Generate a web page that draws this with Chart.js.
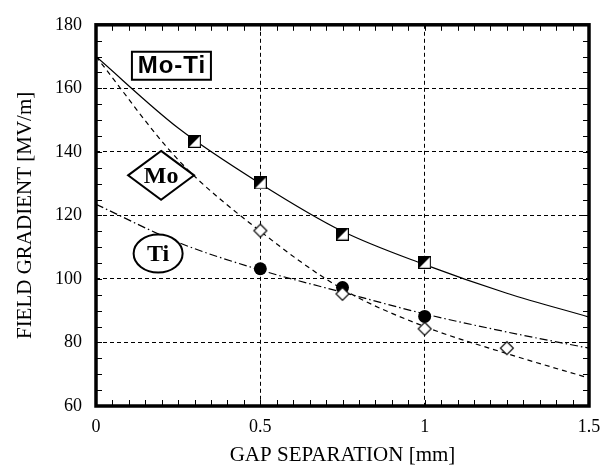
<!DOCTYPE html>
<html>
<head>
<meta charset="utf-8">
<script src="https://cdn.jsdelivr.net/npm/chart.js@4/dist/chart.umd.min.js"></script>
<style>
  html,body{margin:0;padding:0;background:#fff;}
  #wrap{width:613px;height:469px;}
</style>
</head>
<body>
<div id="wrap"><canvas id="c"></canvas></div>
<script>
// fitted curves
const curveX  = [0, 0.25, 0.5, 0.75, 1.0, 1.25, 1.5];
const moTiFit = [170, 147.5, 130, 115, 104.5, 95.5, 88];
const moFit   = [170, 137.5, 115, 96.8, 85, 76.5, 68.8];
const tiFit   = [123.5, 111.5, 102.8, 95.8, 89, 83.3, 78.2];

// measured points
const moTiX = [0.3, 0.5, 0.75, 1.0];
const moTiY = [143.3, 130.2, 114.1, 105.2];
const moX   = [0.5, 0.75, 1.0, 1.25];
const moY   = [115.2, 95.3, 84.3, 78.2];
const tiX   = [0.5, 0.75, 1.0];
const tiY   = [103.2, 97.3, 88.2];

const xTitle = 'GAP SEPARATION [mm]';
const yTitle = 'FIELD GRADIENT [MV/m]';

const SERIF = "'Liberation Serif', 'Times New Roman', serif";
const SANS  = "'Liberation Sans', Arial, sans-serif";

const pts = (xs, ys) => xs.map((x, i) => ({x, y: ys[i]}));

function squareMark(){
  const s = 13, cv = document.createElement('canvas');
  cv.width = s; cv.height = s;
  const g = cv.getContext('2d');
  g.fillStyle = '#fff'; g.fillRect(0,0,s,s);
  g.fillStyle = '#000';
  g.beginPath(); g.moveTo(0,0); g.lineTo(s,0); g.lineTo(0,s); g.closePath(); g.fill();
  g.strokeStyle = '#000'; g.lineWidth = 1.2; g.strokeRect(0.6,0.6,s-1.2,s-1.2);
  return cv;
}
function diamondMark(){
  const s = 16, h = 6.5, cv = document.createElement('canvas');
  cv.width = s; cv.height = s;
  const g = cv.getContext('2d'), c = s/2;
  g.beginPath(); g.moveTo(c, c-h); g.lineTo(c+h, c); g.lineTo(c, c+h); g.lineTo(c-h, c); g.closePath();
  g.fillStyle = '#fff'; g.fill();
  g.strokeStyle = '#000'; g.lineWidth = 1.1; g.stroke();
  return cv;
}

const curve = (data, dash) => ({
  data, showLine:true, borderColor:'#000', borderWidth:1.2, borderDash:dash,
  pointRadius:0, pointHoverRadius:0, cubicInterpolationMode:'monotone', order:2
});

// boxed series labels, placed in data units
const tags = [
  {text:'Mo-Ti', x:0.2295, y:167.1, shape:'rect',    w:79, h:28, font:'bold 24px '+SANS, spacing:'1px'},
  {text:'Mo',    x:0.198,  y:132.6, shape:'diamond', w:66, h:49, font:'bold 24px '+SERIF, spacing:'0px'},
  {text:'Ti',    x:0.189,  y:108.0, shape:'ellipse', w:49, h:38, font:'bold 24px '+SERIF, spacing:'0px'}
];

const frame = {
  id:'frame',
  afterDatasetsDraw(chart){
    const {ctx, chartArea:a, scales:{x, y}} = chart;
    ctx.save();
    // series tags
    tags.forEach(t => {
      const cx = x.getPixelForValue(t.x), cy = y.getPixelForValue(t.y);
      ctx.beginPath();
      if (t.shape === 'rect') ctx.rect(cx - t.w/2, cy - t.h/2, t.w, t.h);
      else if (t.shape === 'diamond'){
        ctx.moveTo(cx, cy - t.h/2); ctx.lineTo(cx + t.w/2, cy); ctx.lineTo(cx, cy + t.h/2); ctx.lineTo(cx - t.w/2, cy); ctx.closePath();
      } else ctx.ellipse(cx, cy, t.w/2, t.h/2, 0, 0, Math.PI*2);
      ctx.fillStyle = '#fff'; ctx.fill();
      ctx.strokeStyle = '#000'; ctx.lineWidth = 2; ctx.stroke();
      ctx.fillStyle = '#000'; ctx.font = t.font;
      ctx.letterSpacing = t.spacing;
      ctx.textAlign = 'center'; ctx.textBaseline = 'middle';
      ctx.fillText(t.text, cx + (t.spacing === '0px' ? 0 : 0.5), cy + 1);
      ctx.letterSpacing = '0px';
    });
    // minor ticks, inward on all four sides
    ctx.strokeStyle = '#000'; ctx.lineWidth = 1;
    const tl = 6;
    const xs = x.options.ticks.stepSize / 10, ys = y.options.ticks.stepSize / 4;
    ctx.beginPath();
    for (let v = x.min; v <= x.max + 1e-9; v += xs){
      const px = Math.round(x.getPixelForValue(v)) + 0.5;
      ctx.moveTo(px, a.bottom); ctx.lineTo(px, a.bottom - tl);
      ctx.moveTo(px, a.top); ctx.lineTo(px, a.top + tl);
    }
    for (let v = y.min; v <= y.max + 1e-9; v += ys){
      const py = Math.round(y.getPixelForValue(v)) + 0.5;
      ctx.moveTo(a.left, py); ctx.lineTo(a.left + tl, py);
      ctx.moveTo(a.right, py); ctx.lineTo(a.right - tl, py);
    }
    ctx.stroke();
    // heavy frame
    ctx.lineWidth = 3.5;
    ctx.strokeRect(a.left, a.top, a.right - a.left, a.bottom - a.top);
    ctx.restore();
  }
};

const tickFont = {family:SERIF, size:18};
const titleFont = {family:SERIF, size:21};

new Chart(document.getElementById('c'), {
  type:'scatter',
  data:{datasets:[
    {data:pts(moTiX, moTiY), pointStyle:squareMark(), pointRadius:7, order:0},
    {data:pts(moX, moY), pointStyle:diamondMark(), pointRadius:8, order:0},
    {data:pts(tiX, tiY), pointStyle:'circle', pointRadius:6.5, backgroundColor:'#000', borderColor:'#000', borderWidth:0, order:1},
    curve(pts(curveX, moTiFit), []),
    curve(pts(curveX, moFit), [5,4]),
    curve(pts(curveX, tiFit), [8,3,1.5,3])
  ]},
  options:{
    responsive:true, maintainAspectRatio:false, animation:false,
    layout:{padding:{left:0, top:14, right:24, bottom:0}},
    plugins:{legend:{display:false}, tooltip:{enabled:false}},
    scales:{
      x:{
        type:'linear', min:0, max:1.5,
        ticks:{stepSize:0.5, color:'#000', font:tickFont, padding:10, maxRotation:0, callback:v => String(v)},
        grid:{color:'#000', lineWidth:1, drawTicks:false},
        border:{display:false, dash:[4,3]},
        title:{display:true, text:xTitle, color:'#000', font:titleFont, padding:{top:0, bottom:1}},
        afterFit(s){ s.height = 63; }
      },
      y:{
        type:'linear', min:60, max:180,
        ticks:{stepSize:20, color:'#000', font:tickFont, padding:14, callback:v => String(v)},
        grid:{color:'#000', lineWidth:1, drawTicks:false},
        border:{display:false, dash:[4,3]},
        title:{display:true, text:yTitle, color:'#000', font:titleFont, padding:{top:13, bottom:0}},
        afterFit(s){ s.width = 96; }
      }
    }
  },
  plugins:[frame]
});
</script>
</body>
</html>
